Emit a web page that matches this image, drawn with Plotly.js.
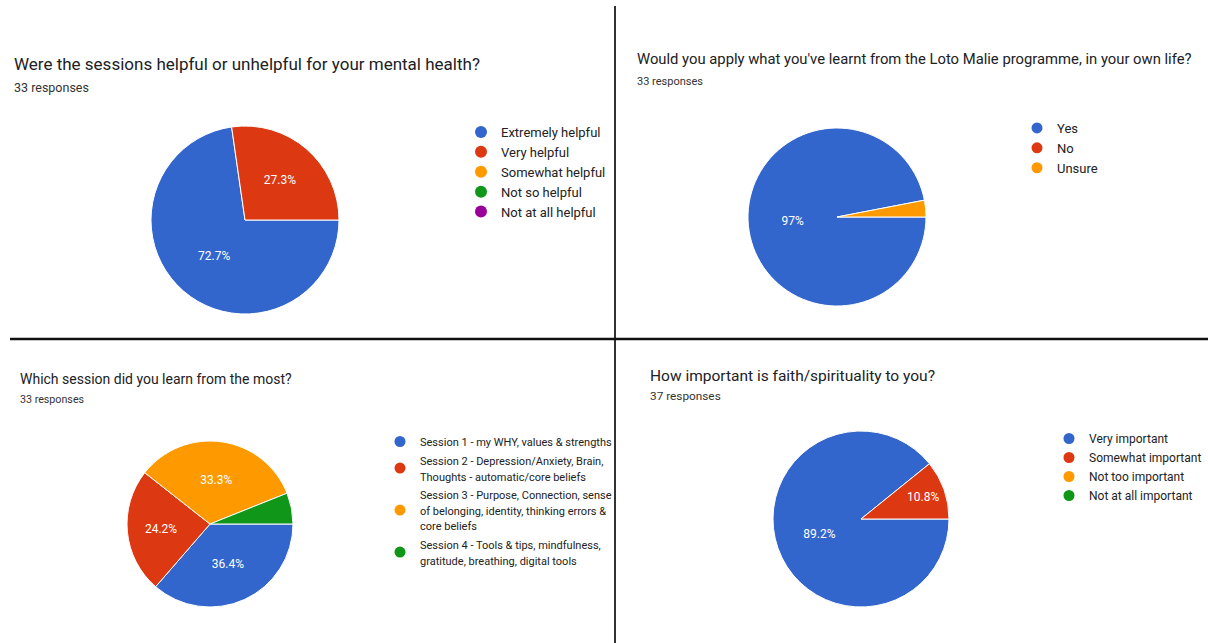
<!DOCTYPE html>
<html>
<head>
<meta charset="utf-8">
<script src="https://cdn.plot.ly/plotly-3.0.1.min.js"></script>
<style>
  html, body { margin: 0; padding: 0; background: #ffffff; }
  #chart { width: 1208px; height: 643px; }
</style>
</head>
<body>
<div id="chart"></div>
<script>
// ---------------- DATA ----------------
const q1Title = 'Were the sessions helpful or unhelpful for your mental health?';
const q1Responses = '33 responses';
const q1Labels = ['Extremely helpful', 'Very helpful', 'Somewhat helpful', 'Not so helpful', 'Not at all helpful'];
const q1Counts = [24, 9, 0, 0, 0];

const q2Title = "Would you apply what you've learnt from the Loto Malie programme, in your own life?";
const q2Responses = '33 responses';
const q2Labels = ['Yes', 'No', 'Unsure'];
const q2Counts = [32, 0, 1];

const q3Title = 'Which session did you learn from the most?';
const q3Responses = '33 responses';
const q3Labels = [
  'Session 1 - my WHY, values & strengths',
  'Session 2 - Depression/Anxiety, Brain, Thoughts - automatic/core beliefs',
  'Session 3 - Purpose, Connection, sense of belonging, identity, thinking errors & core beliefs',
  'Session 4 - Tools & tips, mindfulness, gratitude, breathing, digital tools'
];
const q3LegendLines = [
  ['Session 1 - my WHY, values & strengths'],
  ['Session 2 - Depression/Anxiety, Brain,', 'Thoughts - automatic/core beliefs'],
  ['Session 3 - Purpose, Connection, sense', 'of belonging, identity, thinking errors &', 'core beliefs'],
  ['Session 4 - Tools & tips, mindfulness,', 'gratitude, breathing, digital tools']
];
const q3Counts = [12, 8, 11, 2];

const q4Title = 'How important is faith/spirituality to you?';
const q4Responses = '37 responses';
const q4Labels = ['Very important', 'Somewhat important', 'Not too important', 'Not at all important'];
const q4Counts = [33, 4, 0, 0];

const palette = ['#3366cc', '#dc3912', '#ff9900', '#109618', '#990099'];

// ---------------- LAYOUT HELPERS ----------------
const W = 1208, H = 643;
const FONT = 'Roboto, Arial, sans-serif';
const px = x => x / W;
const py = y => 1 - y / H;
function pieDomain(cx, cy, r) {
  return { x: [px(cx - r), px(cx + r)], y: [py(cy + r), py(cy - r)] };
}
// smaller glyphs inside a legend whose line spacing follows the legend font size
const smallLines = lines => lines.map(l => '<span style="font-size:11px">' + l + '</span>').join('<br>');

const charts = [
  { labels: q1Labels, legendLabels: q1Labels, counts: q1Counts, title: q1Title, resp: q1Responses,
    pie: pieDomain(245, 220, 94), legendKey: 'legend',
    titlePos: [12, 64], titleSize: 17, respPos: [12, 87], respSize: 12.5,
    legendPos: [461, 117], legendAnchor: 'left', legendSize: 13, markerSize: 12 },
  { labels: q2Labels, legendLabels: q2Labels, counts: q2Counts, title: q2Title, resp: q2Responses,
    pie: pieDomain(837, 217, 89), legendKey: 'legend2',
    titlePos: [635, 59], titleSize: 14.8, respPos: [635, 82], respSize: 11,
    legendPos: [1017, 113], legendAnchor: 'left', legendSize: 13, markerSize: 11 },
  { labels: q3Labels, legendLabels: q3LegendLines.map(smallLines), counts: q3Counts, title: q3Title, resp: q3Responses,
    pie: pieDomain(210, 524, 83), legendKey: 'legend3',
    titlePos: [18, 379], titleSize: 14, respPos: [18, 399], respSize: 10.7,
    legendPos: [380, 427], legendAnchor: 'left', legendSize: 12, markerSize: 11 },
  { labels: q4Labels, legendLabels: q4Labels, counts: q4Counts, title: q4Title, resp: q4Responses,
    pie: pieDomain(861, 519, 88), legendKey: 'legend4',
    titlePos: [648, 376], titleSize: 15.5, respPos: [648, 396], respSize: 11.8,
    legendPos: [1207, 424], legendAnchor: 'right', legendSize: 12, markerSize: 11 }
];

const traces = [];
const annotations = [];
const layout = {
  width: W, height: H,
  margin: { l: 0, r: 0, t: 0, b: 0 },
  paper_bgcolor: '#ffffff', plot_bgcolor: '#ffffff',
  font: { family: FONT, color: '#222222' },
  xaxis: { visible: false, domain: [0, 0.001] },
  yaxis: { visible: false, domain: [0, 0.001] },
  showlegend: true,
  hovermode: false,
  shapes: [
    { type: 'line', xref: 'paper', yref: 'paper', x0: px(615), x1: px(615), y0: py(6), y1: py(643),
      line: { color: '#333333', width: 2 } },
    { type: 'line', xref: 'paper', yref: 'paper', x0: px(10), x1: px(1208), y0: py(339), y1: py(339),
      line: { color: '#111111', width: 2.5 } }
  ]
};

charts.forEach((c) => {
  const total = c.counts.reduce((a, b) => a + b, 0);
  const idx = c.counts.map((v, i) => i).filter(i => c.counts[i] > 0);
  traces.push({
    type: 'pie',
    labels: idx.map(i => c.labels[i]),
    values: idx.map(i => c.counts[i]),
    marker: { colors: idx.map(i => palette[i]), line: { color: '#ffffff', width: 1 } },
    sort: false,
    direction: 'clockwise',
    rotation: 90,
    domain: c.pie,
    textposition: 'inside',
    insidetextorientation: 'horizontal',
    texttemplate: idx.map(i => (c.counts[i] / total >= 0.07 ? '%{percent}' : '')),
    textfont: { family: FONT, size: 12, color: '#ffffff' },
    showlegend: false,
    hoverinfo: 'none'
  });
  c.legendLabels.forEach((lab, i) => {
    traces.push({
      type: 'scatter', x: [null], y: [null], mode: 'markers',
      name: lab,
      marker: { color: palette[i], size: c.markerSize, symbol: 'circle' },
      legend: c.legendKey,
      showlegend: true,
      hoverinfo: 'skip'
    });
  });
  layout[c.legendKey] = {
    x: px(c.legendPos[0]), y: py(c.legendPos[1]), xanchor: c.legendAnchor, yanchor: 'top',
    bgcolor: 'rgba(0,0,0,0)', borderwidth: 0,
    font: { family: FONT, size: c.legendSize, color: '#222222' },
    itemclick: false, itemdoubleclick: false, traceorder: 'normal', tracegroupgap: 0
  };
  annotations.push({
    xref: 'paper', yref: 'paper', x: px(c.titlePos[0]), y: py(c.titlePos[1]),
    xanchor: 'left', yanchor: 'middle', showarrow: false,
    text: c.title, font: { family: FONT, size: c.titleSize, color: '#202124' }
  });
  annotations.push({
    xref: 'paper', yref: 'paper', x: px(c.respPos[0]), y: py(c.respPos[1]),
    xanchor: 'left', yanchor: 'middle', showarrow: false,
    text: c.resp, font: { family: FONT, size: c.respSize, color: '#333333' }
  });
});
layout.annotations = annotations;

Plotly.newPlot('chart', traces, layout, { staticPlot: true, displayModeBar: false });
</script>
</body>
</html>
